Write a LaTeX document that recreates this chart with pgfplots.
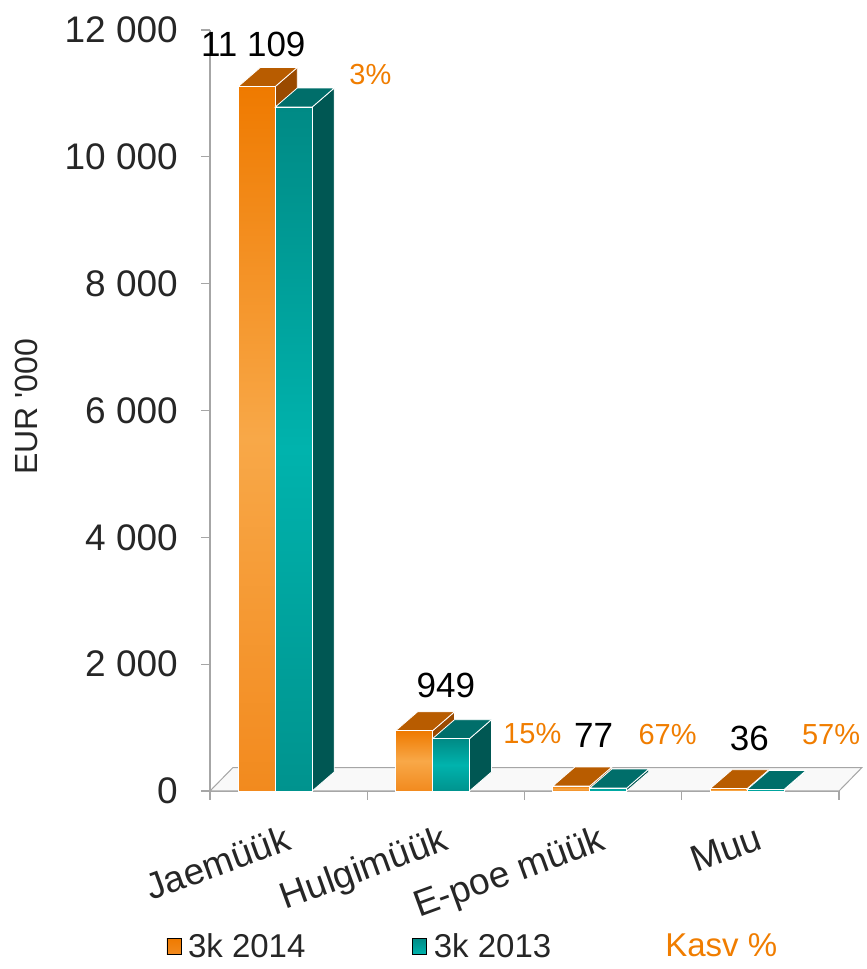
\documentclass[border=0pt]{standalone}
\usepackage{pgfplots}
\pgfplotsset{compat=1.18}
\usepackage{pgfplotstable}
\usepackage{fontspec}
\setmainfont{Liberation Sans}

\definecolor{oFront}{HTML}{EF7A00}
\definecolor{oMid}{HTML}{F8A848}
\definecolor{oBot}{HTML}{F28A1E}
\definecolor{oTop}{HTML}{B85C00}
\definecolor{oSide}{HTML}{9A4A00}
\definecolor{tFront}{HTML}{008A85}
\definecolor{tMid}{HTML}{00B3AD}
\definecolor{tBot}{HTML}{00938E}
\definecolor{tTop}{HTML}{006E6A}
\definecolor{tSide}{HTML}{005753}
\definecolor{kasv}{HTML}{F07D00}
\definecolor{axgray}{HTML}{A6A6A6}
\definecolor{txt}{HTML}{262626}

\pgfplotstableread{
cat v14 v13 pct
0 11109 10785 3
1 949 825 15
2 77 46 67
3 36 23 57
}\datatable

\newcommand\dX{0.14}
\newcommand\dY{300}
% #1 left x, #2 right x, #3 value, #4 colour prefix
\newcommand{\cube}[4]{%
 \pgfmathsetmacro\xa{#1}%
 \pgfmathsetmacro\xb{#2}%
 \pgfmathsetmacro\xc{#2+\dX}%
 \pgfmathsetmacro\xd{#1+\dX}%
 \pgfmathsetmacro\vt{#3+\dY}%
 \edef\tmp{%
  \noexpand\addplot[forget plot, fill=#4Side, draw=white, line width=0.8pt] coordinates {(\xb,0) (\xc,\dY) (\xc,\vt) (\xb,#3)} -- cycle;%
  \noexpand\addplot[forget plot, fill=#4Top, draw=white, line width=0.8pt] coordinates {(\xa,#3) (\xb,#3) (\xc,\vt) (\xd,\vt)} -- cycle;%
  \noexpand\addplot[forget plot, top color=#4Front, bottom color=#4Bot, middle color=#4Mid, draw=white, line width=0.8pt] coordinates {(\xa,0) (\xb,0) (\xb,#3) (\xa,#3)} -- cycle;%
 }\tmp}

\begin{document}
\begin{tikzpicture}
\useasboundingbox (0,0) rectangle (867pt,969pt);
\begin{axis}[
 at={(210pt,178pt)}, anchor=south west,
 scale only axis, width=629pt, height=761pt,
 xmin=0, xmax=4, ymin=0, ymax=12000,
 clip=false,
 axis lines*=left,
 axis line style={axgray, line width=1.3pt},
 tick style={axgray, line width=1.3pt},
 tick align=outside,
 major tick length=9pt,
 minor tick length=9pt,
 scaled y ticks=false,
 ytick={0,2000,4000,6000,8000,10000,12000},
 xtick={0.5,1.5,2.5,3.5},
 xticklabels={Jaemüük, Hulgimüük, E-poe müük, Muu},
 major x tick style={draw=none},
 minor xtick={0,1,2,3,4},
 /pgf/number format/1000 sep={\ },
 /pgf/number format/assume math mode=true,
 y tick label style={font=\fontsize{37}{44}\selectfont, text=txt, inner sep=0pt, xshift=-23pt},
 x tick label style={font=\fontsize{37}{44}\selectfont, text=txt, inner sep=0pt, xshift=-5pt, yshift=-24pt, rotate=20, anchor=north east},
 ylabel={EUR \textquotesingle000},
 ylabel style={font=\fontsize{32}{38}\selectfont, text=txt, at={(axis description cs:-0.291,0.505)}, anchor=center},
 legend columns=3,
 legend style={draw=none, fill=none, font=\fontsize{33}{40}\selectfont, text=txt,
   at={(axis description cs:0.418,-0.204)}, anchor=center,
   /tikz/every odd column/.append style={column sep=5pt},
   /tikz/every even column/.append style={column sep=105pt}},
]
\addlegendimage{legend image code/.code={\fill[top color=oFront, bottom color=oBot] (0pt,-8pt) rectangle (14pt,8pt);}}
\addlegendentry{3k 2014}
\addlegendimage{legend image code/.code={\fill[top color=tFront, bottom color=tMid] (0pt,-8pt) rectangle (14pt,8pt);}}
\addlegendentry{3k 2013}
\addlegendimage{legend image code/.code={}}
\addlegendentry{\textcolor{kasv}{Kasv \%}}

% floor
\addplot[forget plot, fill=gray!5, draw=axgray, line width=1pt] coordinates {(0,0) (4,0) (4.146,370) (0.146,370)} -- cycle;

\pgfplotsforeachungrouped \i in {0,1,2,3}{%
 \pgfplotstablegetelem{\i}{v14}\of\datatable \let\va\pgfplotsretval
 \pgfplotstablegetelem{\i}{v13}\of\datatable \let\vb\pgfplotsretval
 \pgfmathsetmacro\la{\i+0.18}\pgfmathsetmacro\lb{\i+0.415}\pgfmathsetmacro\lc{\i+0.65}%
 \cube{\la}{\lb}{\va}{o}%
 \cube{\lb}{\lc}{\vb}{t}%
}

\node[font=\fontsize{35}{42}\selectfont, text=black] at (axis cs:0.275,11767) {11\ 109};
\node[font=\fontsize{35}{42}\selectfont, text=black] at (axis cs:1.50,1672) {949};
\node[font=\fontsize{35}{42}\selectfont, text=black] at (axis cs:2.44,883) {77};
\node[font=\fontsize{35}{42}\selectfont, text=black] at (axis cs:3.43,836) {36};
\node[font=\fontsize{29}{34}\selectfont, text=kasv] at (axis cs:1.02,11293) {3\%};
\node[font=\fontsize{29}{34}\selectfont, text=kasv] at (axis cs:2.05,899) {15\%};
\node[font=\fontsize{29}{34}\selectfont, text=kasv] at (axis cs:2.91,883) {67\%};
\node[font=\fontsize{29}{34}\selectfont, text=kasv] at (axis cs:3.95,883) {57\%};
\end{axis}
\end{tikzpicture}
\end{document}
